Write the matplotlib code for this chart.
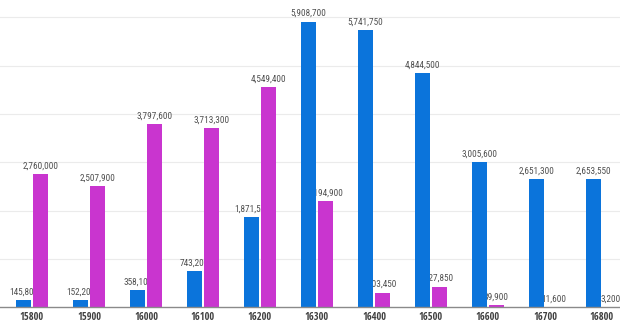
import numpy as np
import matplotlib
matplotlib.use("Agg")
import matplotlib.pyplot as plt

categories = ["15800", "15900", "16000", "16100", "16200", "16300",
              "16400", "16500", "16600", "16700", "16800"]
blue_vals = [145800, 152200, 358100, 743200, 1871550, 5908700,
             5741750, 4844500, 3005600, 2651300, 2653550]
pink_vals = [2760000, 2507900, 3797600, 3713300, 4549400, 2194900,
             303450, 427850, 39900, 11600, 3200]

BLUE = "#0b74db"
PINK = "#c935cf"

plt.rcParams['font.family'] = ['Open Sans Condensed', 'Roboto Condensed',
                               'DejaVu Sans']
LABEL_FONT = ['Roboto Condensed', 'DejaVu Sans']

fig = plt.figure(figsize=(6.2, 3.25), dpi=100)
ax = fig.add_axes([0, 0.0545, 1, 0.9455])

x = np.arange(len(categories))
w = 0.27
off = 0.145
b1 = ax.bar(x - off, blue_vals, w, color=BLUE, zorder=3)
b2 = ax.bar(x + off, pink_vals, w, color=PINK, zorder=3)

# labels sit under the bars, so neighbours hide part of them
for bars, vals in ((b1, blue_vals), (b2, pink_vals)):
    for r, v in zip(bars, vals):
        ax.annotate(f"{v:,}", (r.get_x() + r.get_width() / 2, v),
                    xytext=(0, 2.5), textcoords="offset points",
                    ha="center", va="bottom", fontsize=6.7,
                    family=LABEL_FONT, fontweight="normal",
                    color="#505050", zorder=2)

ax.set_xlim(-0.561, 10.316)
ax.set_ylim(0, 6.356e6)
ax.set_yticks(np.arange(1, 7) * 1e6)
ax.yaxis.grid(True, color="#ebebeb", linewidth=0.8, zorder=0)
ax.set_yticklabels([])
ax.tick_params(axis="y", length=0)
ax.set_xticks(x)
ax.set_xticklabels(categories, fontsize=7.5, fontweight="bold", color="#404040")
ax.tick_params(axis="x", length=0, pad=3.5)
for s in ("top", "right", "left"):
    ax.spines[s].set_visible(False)
ax.spines["bottom"].set_color("#8a8a8a")
ax.spines["bottom"].set_linewidth(1.0)
ax.spines["bottom"].set_zorder(4)

fig.savefig("out.png", dpi=100)
